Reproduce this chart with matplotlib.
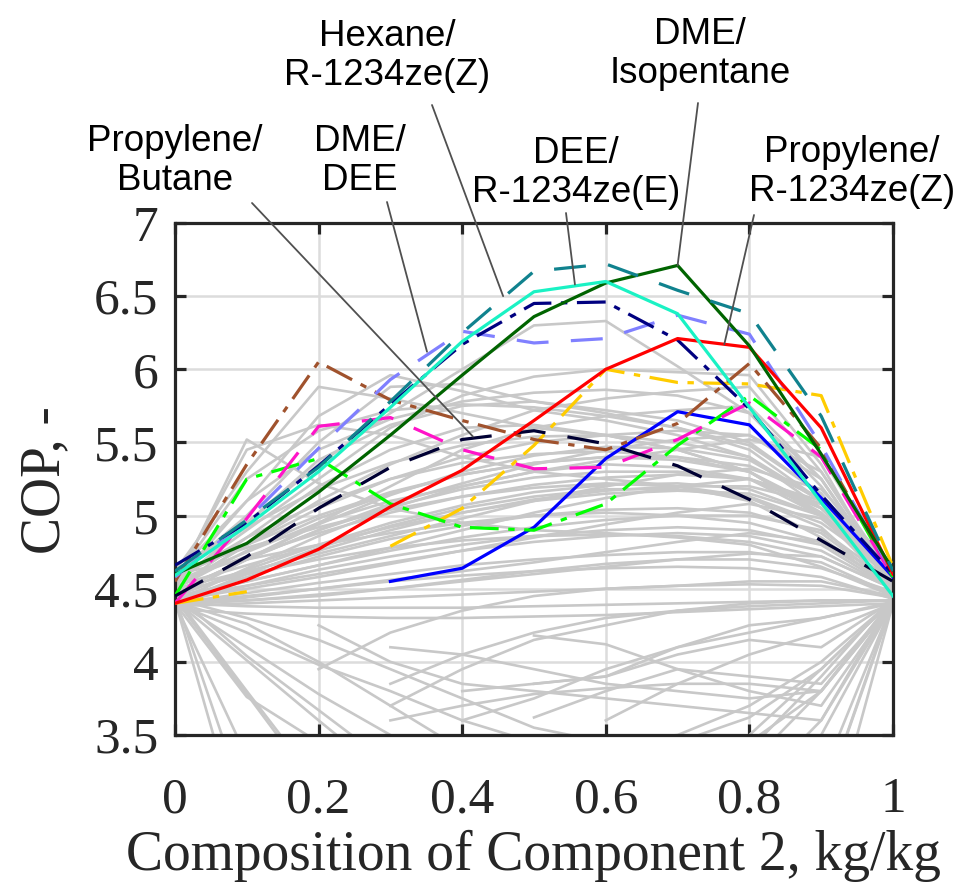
import numpy as np
import matplotlib.pyplot as plt

nan = np.nan

# composition of component 2 (kg/kg)
comp = [0.0, 0.1, 0.2, 0.3, 0.4, 0.5, 0.6, 0.7, 0.8, 0.9, 1.0]

# highlighted mixtures (COP)
hexane_r1234zeZ = [4.62, 4.97, 5.33, 5.78, 6.25, 6.67, 6.72, 6.54, 6.38, 5.68, 4.62]
dee_r1234zeE = [4.59, 4.93, 5.30, 5.74, 6.19, 6.53, 6.60, 6.38, 5.74, 5.09, 4.45]
dme_isopentane = [4.60, 4.81, 5.16, 5.55, 5.96, 6.36, 6.59, 6.71, 6.16, 5.42, 4.63]
propylene_r1234zeZ = [4.40, 4.56, 4.77, 5.06, 5.31, 5.65, 6.00, 6.21, 6.15, 5.60, 4.60]
dme_dee = [4.58, 4.97, 5.46, 5.93, 6.26, 6.18, 6.21, 6.37, 6.24, 5.48, 4.60]
propylene_butane = [4.45, 4.72, 5.05, 5.33, 5.52, 5.58, 5.49, 5.34, 5.11, 4.83, 4.55]
mix_navy = [4.66, 4.95, 5.34, 5.76, 6.17, 6.45, 6.46, 6.20, 5.73, 5.14, 4.60]
mix_brown = [4.55, 5.35, 6.05, 5.79, 5.65, 5.52, 5.45, 5.63, 6.04, 5.46, 4.60]
mix_magenta = [4.40, 4.98, 5.61, 5.67, 5.45, 5.32, 5.33, 5.52, 5.77, 5.40, 4.58]
mix_lime = [4.45, 5.25, 5.39, 5.08, 4.92, 4.90, 5.08, 5.48, 5.82, 5.45, 4.58]
mix_gold = [4.40, 4.48, nan, 4.79, 5.05, 5.48, 6.00, 5.91, 5.90, 5.82, 4.65]
mix_blue = [nan, nan, nan, 4.55, 4.64, 4.92, 5.39, 5.71, 5.62, 5.12, 4.58]

# all other screened mixtures (grey)
grey_high = [
    [4.52, 5.52, 5.22, 5.05, 4.95, 4.90, 4.88, 4.85, 4.80, 4.65, 4.45],
    [4.55, 5.45, 5.62, 5.55, 5.40, 5.30, 5.25, 5.20, 5.10, 4.85, 4.50],
    [4.60, 5.10, 5.68, 5.96, 5.85, 5.72, 5.65, 5.55, 5.40, 5.05, 4.55],
    [4.58, 5.00, 5.50, 5.88, 5.90, 5.78, 5.70, 5.60, 5.45, 5.10, 4.58],
    [4.60, 4.95, 5.35, 5.70, 6.00, 6.30, 6.33, 6.02, 5.70, 5.20, 4.55],
    [4.55, 4.90, 5.25, 5.60, 5.82, 5.95, 6.00, 5.98, 5.96, 5.35, 4.50],
    [4.50, 4.80, 5.10, 5.35, 5.55, 5.72, 5.80, 5.85, 5.88, 5.30, 4.55],
    [4.48, 4.70, 4.95, 5.20, 5.45, 5.60, 5.68, 5.72, 5.75, 5.25, 4.52],
    [4.52, 4.95, 5.38, 5.62, 5.75, 5.78, 5.72, 5.65, 5.50, 5.15, 4.55],
    [4.50, 4.85, 5.20, 5.45, 5.60, 5.62, 5.55, 5.45, 5.30, 5.00, 4.50],
    [4.62, 5.30, 5.88, 5.80, 5.70, 5.60, 5.55, 5.45, 5.30, 5.00, 4.55],
    [4.50, 4.80, 5.05, 5.25, 5.40, 5.50, 5.55, 5.58, 5.55, 5.25, 4.55],
    [4.48, 4.70, 4.90, 5.08, 5.22, 5.35, 5.45, 5.52, 5.55, 5.30, 4.58],
    [4.55, 4.75, 4.95, 5.10, 5.20, 5.30, 5.38, 5.45, 5.52, 5.40, 4.62],
    [4.57, 5.25, 5.58, 5.72, 5.76, 5.74, 5.68, 5.60, 5.48, 5.15, 4.56],
    [4.54, 5.10, 5.45, 5.66, 5.78, 5.84, 5.86, 5.82, 5.70, 5.25, 4.52],
]
grey_mid = [
    [4.40, 4.52, 4.63, 4.72, 4.80, 4.86, 4.90, 4.92, 4.90, 4.80, 4.50],
    [4.42, 4.58, 4.72, 4.84, 4.93, 5.00, 5.04, 5.05, 5.02, 4.88, 4.52],
    [4.45, 4.63, 4.80, 4.95, 5.07, 5.16, 5.21, 5.22, 5.18, 5.00, 4.55],
    [4.48, 4.70, 4.90, 5.06, 5.18, 5.26, 5.30, 5.30, 5.25, 5.05, 4.58],
    [4.50, 4.76, 4.98, 5.15, 5.28, 5.36, 5.40, 5.40, 5.34, 5.12, 4.60],
    [4.40, 4.47, 4.54, 4.60, 4.66, 4.70, 4.73, 4.75, 4.75, 4.68, 4.46],
    [4.38, 4.44, 4.50, 4.55, 4.59, 4.62, 4.64, 4.65, 4.64, 4.58, 4.43],
    [4.43, 4.55, 4.66, 4.76, 4.85, 4.92, 4.97, 5.00, 5.00, 4.90, 4.55],
    [4.46, 4.61, 4.76, 4.90, 5.02, 5.11, 5.17, 5.20, 5.20, 5.08, 4.60],
    [4.52, 4.66, 4.80, 4.92, 5.02, 5.10, 5.15, 5.17, 5.15, 5.00, 4.62],
    [4.55, 4.72, 4.88, 5.02, 5.13, 5.21, 5.26, 5.28, 5.25, 5.08, 4.64],
    [4.58, 4.80, 5.00, 5.16, 5.28, 5.36, 5.40, 5.38, 5.30, 5.05, 4.60],
    [4.60, 4.70, 4.80, 4.88, 4.95, 5.00, 5.02, 5.00, 4.95, 4.82, 4.58],
    [4.62, 4.78, 4.92, 5.04, 5.13, 5.19, 5.22, 5.20, 5.13, 4.95, 4.60],
    [4.40, 4.60, 4.78, 4.93, 5.05, 5.13, 5.18, 5.18, 5.12, 4.92, 4.48],
    [4.41, 4.64, 4.86, 5.05, 5.20, 5.30, 5.35, 5.33, 5.25, 5.00, 4.50],
    [4.44, 4.70, 4.94, 5.14, 5.30, 5.41, 5.47, 5.46, 5.38, 5.10, 4.55],
    [4.47, 4.60, 4.70, 4.78, 4.83, 4.86, 4.87, 4.86, 4.82, 4.72, 4.50],
    [4.39, 4.42, 4.46, 4.50, 4.55, 4.60, 4.65, 4.70, 4.74, 4.72, 4.50],
    [4.40, 4.45, 4.50, 4.56, 4.62, 4.68, 4.75, 4.82, 4.88, 4.82, 4.52],
    [4.42, 4.50, 4.58, 4.67, 4.76, 4.85, 4.94, 5.02, 5.08, 4.98, 4.58],
    [4.45, 4.55, 4.66, 4.78, 4.90, 5.02, 5.12, 5.20, 5.25, 5.10, 4.62],
    [4.50, 4.62, 4.74, 4.86, 4.98, 5.10, 5.20, 5.28, 5.32, 5.18, 4.65],
    [4.56, 4.85, 5.08, 5.25, 5.36, 5.42, 5.44, 5.40, 5.30, 5.02, 4.56],
    [4.60, 4.92, 5.18, 5.36, 5.48, 5.54, 5.55, 5.50, 5.40, 5.10, 4.58],
    [4.38, 4.40, 4.42, 4.44, 4.46, 4.48, 4.50, 4.52, 4.53, 4.52, 4.44],
    [4.40, 4.38, 4.37, 4.37, 4.37, 4.38, 4.39, 4.40, 4.41, 4.42, 4.42],
    [4.36, 4.33, 4.31, 4.30, 4.30, 4.31, 4.32, 4.34, 4.36, 4.38, 4.40],
    [4.40, 4.42, 4.45, 4.50, 4.56, 4.62, 4.67, 4.70, 4.70, 4.64, 4.48],
    [4.45, 4.52, 4.60, 4.68, 4.76, 4.82, 4.86, 4.88, 4.86, 4.76, 4.50],
]
grey_low = [
    [4.42, 2.70, 2.30, 2.10, 2.00, 2.00, 2.00, 2.10, 2.30, 2.60, 4.40],
    [4.44, 3.00, 2.60, 2.40, 2.30, 2.30, 2.40, 2.50, 2.70, 3.00, 4.42],
    [4.40, 3.35, 2.90, 2.70, 2.60, 2.60, 2.60, 2.70, 2.90, 3.20, 4.41],
    [4.43, 3.78, 3.12, 2.90, 2.80, 2.80, 2.80, 2.90, 3.10, 3.60, 4.44],
    [4.45, 3.80, 3.16, 2.90, 2.80, 2.80, 2.90, 3.00, 3.30, 3.80, 4.43],
    [4.42, 4.01, 3.60, 3.20, 3.00, 2.90, 3.00, 3.10, 3.50, 3.95, 4.42],
    [4.46, 4.04, 3.67, 3.30, 3.10, 3.00, 3.00, 3.20, 3.40, 3.90, 4.45],
    [4.40, 3.76, 3.45, 3.20, 3.00, 3.00, 3.00, 3.00, 3.00, 3.00, 4.40],
    [4.41, 4.26, 4.00, 3.70, 3.40, 3.20, 3.10, 3.10, 3.20, 3.50, 4.40],
    [4.43, 4.30, 4.15, 3.95, 3.75, 3.55, 3.45, 3.50, 3.70, 4.00, 4.42],
    [4.40, 4.20, 3.98, 3.80, 3.60, 3.45, 3.40, 3.45, 3.62, 3.95, 4.42],
    [4.42, 4.10, 3.78, 3.50, 3.30, 3.20, 3.20, 3.30, 3.45, 3.80, 4.41],
    [nan, nan, 4.25, 4.00, 3.85, 3.80, 3.75, 3.70, 3.65, 3.60, 4.40],
    [nan, nan, 3.95, 4.20, 4.35, 4.45, 4.50, 4.52, 4.55, 4.55, 4.45],
    [nan, nan, nan, 3.85, 4.05, 4.20, 4.30, 4.35, 4.40, 4.42, 4.42],
    [nan, nan, nan, 3.70, 3.95, 4.15, 4.25, 4.35, 4.38, 4.40, 4.42],
    [nan, nan, nan, 4.10, 4.05, 3.95, 3.85, 3.80, 3.75, 3.80, 4.40],
    [nan, nan, nan, nan, 3.60, 3.75, 3.95, 4.10, 4.20, 4.30, 4.40],
    [nan, nan, nan, nan, 3.80, 3.85, 3.90, 4.10, 4.25, 4.30, 4.41],
    [nan, nan, nan, nan, nan, 3.85, 3.90, 4.05, 4.15, 4.10, 4.42],
    [nan, nan, nan, nan, nan, 3.62, 3.80, 3.95, 3.90, 3.85, 4.40],
    [nan, nan, nan, nan, nan, nan, 3.60, 3.85, 4.05, 4.20, 4.40],
    [nan, nan, nan, nan, nan, 4.18, 4.12, 3.95, 3.80, 3.70, 4.40],
    [nan, nan, nan, 3.60, 3.70, 3.78, 3.82, 3.85, 3.85, 3.80, 4.40],
]

x_ticks = [0, 0.2, 0.4, 0.6, 0.8, 1]
x_ticklabels = ['0', '0.2', '0.4', '0.6', '0.8', '1']
y_ticks = [3.5, 4, 4.5, 5, 5.5, 6, 6.5, 7]
y_ticklabels = ['3.5', '4', '4.5', '5', '5.5', '6', '6.5', '7']

W, H = 963, 885
fig = plt.figure(figsize=(W / 100, H / 100), dpi=100)
ax = fig.add_axes([175 / W, 1 - 735 / H, 718 / W, 512 / H])

for g in grey_high + grey_mid + grey_low:
    ax.plot(comp, g, color='#C8C8C8', lw=1.9, zorder=2)

dash = (0, (10, 7))
dashdot = (0, (9, 3, 2, 3))
highlighted = [
    (mix_blue, '#0000FF', '-'),
    (mix_gold, '#FFCC00', dashdot),
    (mix_lime, '#00FF00', dashdot),
    (mix_magenta, '#FF14C8', dash),
    (mix_brown, '#A0522D', dashdot),
    (propylene_butane, '#000033', dash),
    (dme_dee, '#8080FF', dash),
    (mix_navy, '#000080', dashdot),
    (propylene_r1234zeZ, '#FF0000', '-'),
    (dme_isopentane, '#006400', '-'),
    (hexane_r1234zeZ, '#10828E', dash),
    (dee_r1234zeE, '#1AF2C4', '-'),
]
for vals, col, ls in highlighted:
    ax.plot(comp, vals, color=col, lw=2.3, linestyle=ls, zorder=3)

ax.set_xlim(0, 1)
ax.set_ylim(3.5, 7)
ax.set_xticks(x_ticks)
ax.set_xticklabels(x_ticklabels)
ax.set_yticks(y_ticks)
ax.set_yticklabels(y_ticklabels)
ax.grid(True, color='#DCDCDC', lw=1.8)
ax.set_axisbelow(True)
ax.tick_params(direction='in', length=8, width=2.3, top=True, right=True,
               labelsize=37, colors='#262626')
ax.tick_params(axis='x', pad=30)
ax.tick_params(axis='y', pad=12)
for lab in ax.get_xticklabels() + ax.get_yticklabels():
    lab.set_fontfamily('Liberation Serif')
for s in ax.spines.values():
    s.set_linewidth(2.3)
    s.set_color('#262626')

fig.text(533 / W, 1 - 856 / H, 'Composition of Component 2, kg/kg',
         ha='center', va='center', fontsize=40, family='Liberation Serif', color='#262626')
fig.text(45 / W, 1 - 480 / H, 'COP, -', rotation=90,
         ha='center', va='center', fontsize=40, family='Liberation Serif', color='#262626')

# labels: text centre (px), pointer start (px), pointer end (data)
labels = ['Propylene/\nButane', 'DME/\nDEE', 'Hexane/\nR-1234ze(Z)',
          'DEE/\nR-1234ze(E)', 'DME/\nIsopentane', 'Propylene/\nR-1234ze(Z)']
label_pos = [(175, 161), (360, 161), (387, 56), (576, 173), (700, 54), (852, 172)]
pointer_from = [(252, 203), (387, 202), (432, 105), (566, 213), (698, 103), (754, 215)]
pointer_to = [(0.415, 5.54), (0.351, 6.12), (0.457, 6.50), (0.557, 6.58), (0.700, 6.71), (0.765, 6.17)]

for lab, (tx, ty), (sx, sy), xy in zip(labels, label_pos, pointer_from, pointer_to):
    fig.text(tx / W, 1 - ty / H, lab, ha='center', va='center', fontsize=26.5,
             family='Liberation Sans', linespacing=1.15, multialignment='center')
    ax.annotate('', xy=xy, xycoords='data', xytext=(sx, H - sy), textcoords='figure pixels',
                arrowprops=dict(arrowstyle='-', color='#505050', lw=1.3, shrinkA=0, shrinkB=0),
                annotation_clip=False, zorder=5)

fig.savefig('out.png', dpi=100)
